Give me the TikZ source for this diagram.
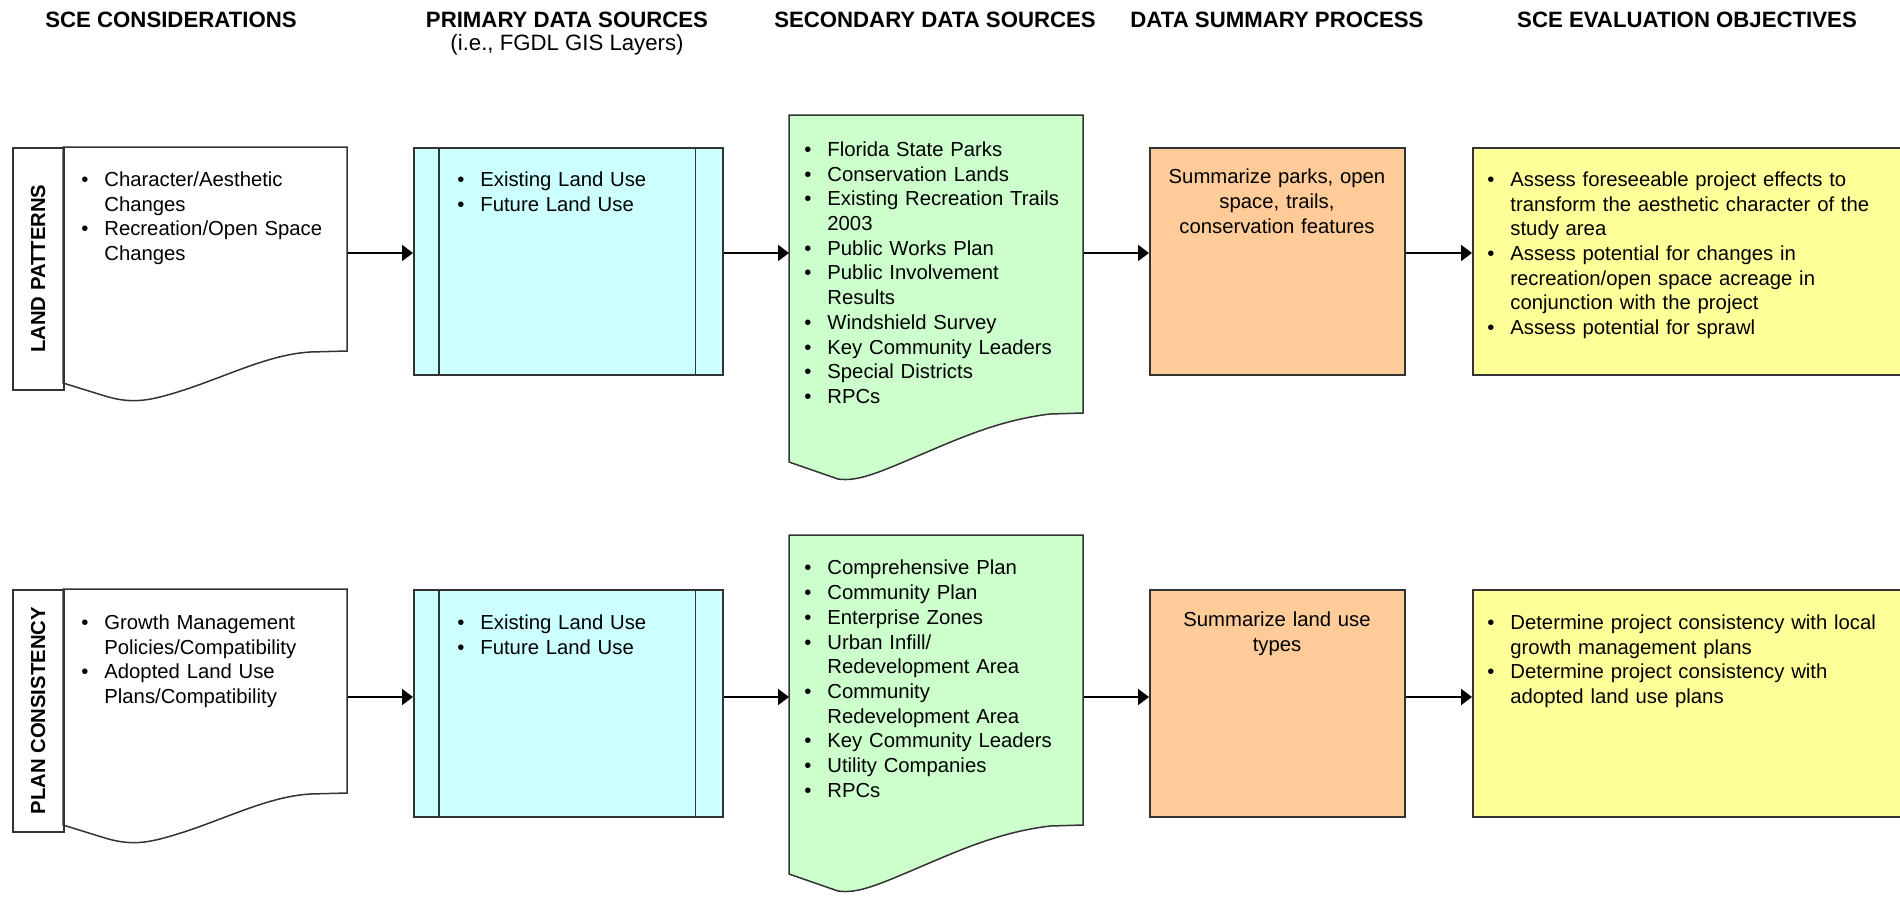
\documentclass[tikz,border=0pt]{standalone}
\usepackage{fontspec}
\setmainfont{Liberation Sans}
\usetikzlibrary{arrows.meta}

\definecolor{gisblue}{HTML}{CCFFFF}
\definecolor{srcgreen}{HTML}{CCFFCC}
\definecolor{sumorange}{HTML}{FFCC99}
\definecolor{objyellow}{HTML}{FFFF99}
\definecolor{edge}{HTML}{333333}

\newcommand{\bodyfont}{\fontsize{10.15pt}{12.35pt}\selectfont}
\newcommand{\headfont}{\fontsize{11.1pt}{13.5pt}\selectfont}
\newlength{\bulletgap}
\setlength{\bulletgap}{11.5pt}
% one bullet line, later lines hang under the text
\newcommand{\bitem}[1]{\noindent\hangindent=\bulletgap\hangafter=1\makebox[\bulletgap][l]{\textbullet}\strut#1\par}

\tikzset{
  every node/.style={inner sep=0pt},
  shapeline/.style={draw=edge, line width=0.75pt},
  box/.style={shapeline, anchor=north west, minimum height=113.5pt},
  gisbox/.style={box, fill=gisblue, minimum width=154.5pt},
  sumbox/.style={box, fill=sumorange, minimum width=127.5pt},
  objbox/.style={box, fill=objyellow, minimum width=217pt},
  labelbox/.style={shapeline, anchor=north west, minimum width=25.5pt, minimum height=121pt},
  area/.style={anchor=north west, minimum width=#1},
  labeltext/.style={rotate=90, font=\bodyfont\bfseries},
  listtext/.style={anchor=north west, text width=#1, align=left, font=\bodyfont},
  sumtext/.style={anchor=north, text width=125pt, align=center, font=\bodyfont},
  header/.style={anchor=base, font=\headfont\bfseries},
  flow/.style={-{Triangle[length=5.5pt,width=8pt]}, line width=1.1pt}
}

\begin{document}
\begin{tikzpicture}[x=0.5pt, y=-0.5pt]
\useasboundingbox (0,0) rectangle (1900,896);

% column headers
\node[header] (hcon) at (171,27) {SCE CONSIDERATIONS};
\node[header] (hgis) at (567,27) {PRIMARY DATA SOURCES};
\node[anchor=base, font=\headfont] (hgissub) at (567,50) {(i.e., FGDL GIS Layers)};
\node[header] (hsrc) at (935,27) {SECONDARY DATA SOURCES};
\node[header] (hsum) at (1277,27) {DATA SUMMARY PROCESS};
\node[header] (hobj) at (1687,27) {SCE EVALUATION OBJECTIVES};

% ---- land patterns row
\coordinate (lprow) at (0,253);
\draw[shapeline, fill=white] (63,147) -- (347,147) -- (347,351) -- (310,352)
  .. controls (262,355) and (215,383) .. (160,397)
  .. controls (140,402) and (125,402) .. (105,396) -- (63,383) -- cycle;
\node[area=142pt, minimum height=102pt] (lpcon) at (63,147) {};
\node[labelbox] (lplab) at (12,147) {};
\node[labeltext] (lplabtxt) at (lplab.center) {LAND PATTERNS};
\node[listtext=130pt] (lpcontxt) at (81,168.7) {%
  \bitem{Character/Aesthetic\newline Changes}
  \bitem{Recreation/Open Space\newline Changes}};

\node[gisbox] (lpgis) at (413,147) {};
\draw[shapeline] ([xshift=13pt]lpgis.north west) -- ([xshift=13pt]lpgis.south west);
\draw[shapeline] ([xshift=-14pt]lpgis.north east) -- ([xshift=-14pt]lpgis.south east);
\node[listtext=120pt] (lpgistxt) at (457,168.7) {%
  \bitem{Existing Land Use}
  \bitem{Future Land Use}};

\draw[shapeline, fill=srcgreen] (789,115) -- (1083,115) -- (1083,413) -- (1050,414)
  .. controls (1000,420) and (960,438) .. (920,455)
  .. controls (880,472) and (858,482) .. (838,479) -- (789,462) -- cycle;
\node[area=147pt, minimum height=149pt] (lpsrc) at (789,115) {};
\node[listtext=135pt] (lpsrctxt) at (804,138.7) {%
  \bitem{Florida State Parks}
  \bitem{Conservation Lands}
  \bitem{Existing Recreation Trails\newline 2003}
  \bitem{Public Works Plan}
  \bitem{Public Involvement\newline Results}
  \bitem{Windshield Survey}
  \bitem{Key Community Leaders}
  \bitem{Special Districts}
  \bitem{RPCs}};

\node[sumbox] (lpsum) at (1149,147) {};
\node[sumtext] (lpsumtxt) at (1277,166.2) {\strut Summarize parks, open\\ space, trails,\\ conservation features};

\node[objbox] (lpobj) at (1472,147) {};
\node[listtext=200pt] (lpobjtxt) at (1487,168.7) {%
  \bitem{Assess foreseeable project effects to\newline transform the aesthetic character of the\newline study area}
  \bitem{Assess potential for changes in\newline recreation/open space acreage in\newline conjunction with the project}
  \bitem{Assess potential for sprawl}};

\draw[flow] (lpcon.east |- lprow) -- (lpgis.west |- lprow);
\draw[flow] (lpgis.east |- lprow) -- (lpsrc.west |- lprow);
\draw[flow] (lpsrc.east |- lprow) -- (lpsum.west |- lprow);
\draw[flow] (lpsum.east |- lprow) -- (lpobj.west |- lprow);

% ---- plan consistency row
\coordinate (pcrow) at (0,697);
\draw[shapeline, fill=white] (63,589) -- (347,589) -- (347,793) -- (310,794)
  .. controls (262,797) and (215,825) .. (160,839)
  .. controls (140,844) and (125,844) .. (105,838) -- (63,825) -- cycle;
\node[area=142pt, minimum height=102pt] (pccon) at (63,589) {};
\node[labelbox] (pclab) at (12,589) {};
\node[labeltext] (pclabtxt) at (pclab.center) {PLAN CONSISTENCY};
\node[listtext=130pt] (pccontxt) at (81,611.7) {%
  \bitem{Growth Management\newline Policies/Compatibility}
  \bitem{Adopted Land Use\newline Plans/Compatibility}};

\node[gisbox] (pcgis) at (413,589) {};
\draw[shapeline] ([xshift=13pt]pcgis.north west) -- ([xshift=13pt]pcgis.south west);
\draw[shapeline] ([xshift=-14pt]pcgis.north east) -- ([xshift=-14pt]pcgis.south east);
\node[listtext=120pt] (pcgistxt) at (457,611.7) {%
  \bitem{Existing Land Use}
  \bitem{Future Land Use}};

\draw[shapeline, fill=srcgreen] (789,535) -- (1083,535) -- (1083,825) -- (1050,826)
  .. controls (1000,832) and (960,850) .. (920,867)
  .. controls (880,884) and (858,894) .. (838,891) -- (789,874) -- cycle;
\node[area=147pt, minimum height=145pt] (pcsrc) at (789,535) {};
\node[listtext=135pt] (pcsrctxt) at (804,557.2) {%
  \bitem{Comprehensive Plan}
  \bitem{Community Plan}
  \bitem{Enterprise Zones}
  \bitem{Urban Infill/\newline Redevelopment Area}
  \bitem{Community\newline Redevelopment Area}
  \bitem{Key Community Leaders}
  \bitem{Utility Companies}
  \bitem{RPCs}};

\node[sumbox] (pcsum) at (1149,589) {};
\node[sumtext] (pcsumtxt) at (1277,608.7) {\strut Summarize land use\\ types};

\node[objbox] (pcobj) at (1472,589) {};
\node[listtext=200pt] (pcobjtxt) at (1487,611.7) {%
  \bitem{Determine project consistency with local\newline growth management plans}
  \bitem{Determine project consistency with\newline adopted land use plans}};

\draw[flow] (pccon.east |- pcrow) -- (pcgis.west |- pcrow);
\draw[flow] (pcgis.east |- pcrow) -- (pcsrc.west |- pcrow);
\draw[flow] (pcsrc.east |- pcrow) -- (pcsum.west |- pcrow);
\draw[flow] (pcsum.east |- pcrow) -- (pcobj.west |- pcrow);
\end{tikzpicture}
\end{document}
